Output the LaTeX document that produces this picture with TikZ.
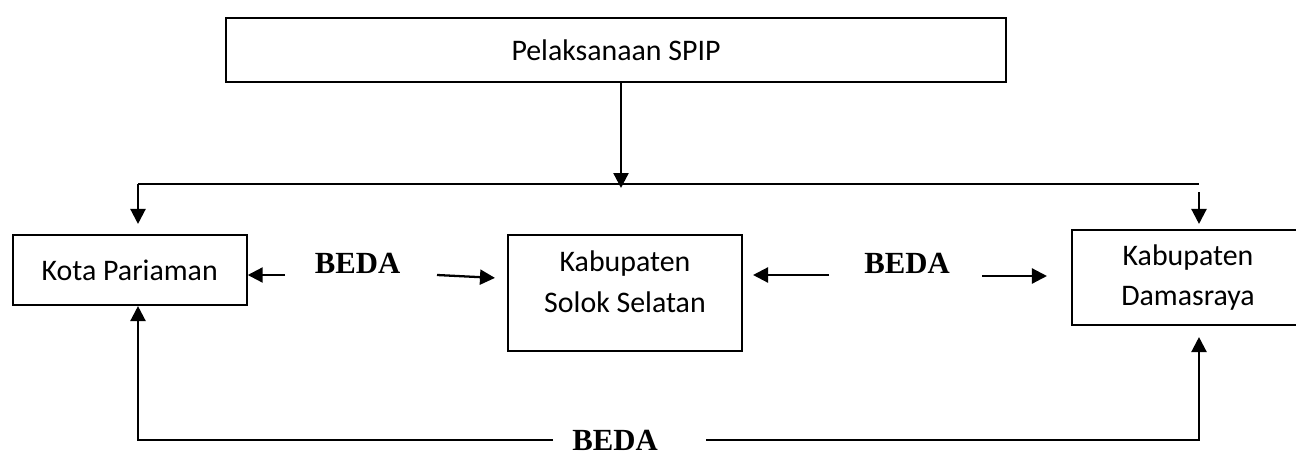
\documentclass[tikz,border=0pt]{standalone}
\usepackage{fontspec}
\setmainfont{Carlito}
\newfontfamily\bedafont{Liberation Serif}
\usetikzlibrary{arrows.meta}

\begin{document}
\begin{tikzpicture}[x=0.02cm,y=-0.02cm,line width=1.3pt,
	>={Triangle[length=0.3cm,width=0.3cm]},
	box/.style={draw,line width=1.2pt,align=center,inner sep=0pt,font=\fontsize{17}{23.3}\selectfont},
	beda/.style={inner sep=0pt,font=\bedafont\bfseries\fontsize{17.5}{20}\selectfont}]
	\useasboundingbox (0,0) rectangle (1296,457);
	% kotak
	\draw (616,50) node[box,minimum width=15.6cm,minimum height=1.28cm] (spip) {Pelaksanaan SPIP};
	\draw (129.7,270) node[box,minimum width=4.68cm,minimum height=1.4cm] (kota) {Kota Pariaman};
	\draw (625,293) node[box,minimum width=4.68cm,minimum height=2.32cm,text depth=13pt] (solok) {Kabupaten\\Solok Selatan};
	\draw (1188,277.5) node[box,minimum width=4.64cm,minimum height=1.9cm] (damas) {Kabupaten\\Damasraya};
	% label
	\draw (357.5,263) node[beda] (beda1) {BEDA};
	\draw (907,263) node[beda] (beda2) {BEDA};
	\draw (615,440) node[beda] (beda3) {BEDA};
	% titik bantu
	\coordinate (hub) at (621,188);
	\coordinate (lt) at (138,184);
	\coordinate (rt) at (1199,184);
	\coordinate (lb) at (138,440);
	\coordinate (rb) at (1199,440);
	\coordinate (b1l) at (285,275);
	\coordinate (b1r) at (437,275);
	\coordinate (b2l) at (829,275);
	\coordinate (b2r) at (982,276);
	\coordinate (b3l) at (553,440);
	\coordinate (b3r) at (706,440);
	% panah atas
	\draw[->] (spip.south -| hub) -- (hub);
	\draw (lt) -- (rt);
	\draw[->,shorten >=0.2cm] (lt) -- (lt |- kota.north);
	\draw[->,shorten <=0.16cm,shorten >=0.1cm] (rt) -- (rt |- damas.north);
	% panah tengah
	\draw[->] (b1l) -- (b1l -| kota.east);
	\draw[->,shorten >=0.24cm] (b1r) -- ([yshift=-0.07cm]b1r -| solok.west);
	\draw[->,shorten >=0.2cm] (b2l) -- (b2l -| solok.east);
	\draw[->,shorten >=0.48cm] (b2r) -- (b2r -| damas.west);
	% panah bawah
	\draw[->] (b3l) -- (lb) -- (lb |- kota.south);
	\draw[->,shorten >=0.22cm] (b3r) -- (rb) -- (rb |- damas.south);
\end{tikzpicture}
\end{document}
